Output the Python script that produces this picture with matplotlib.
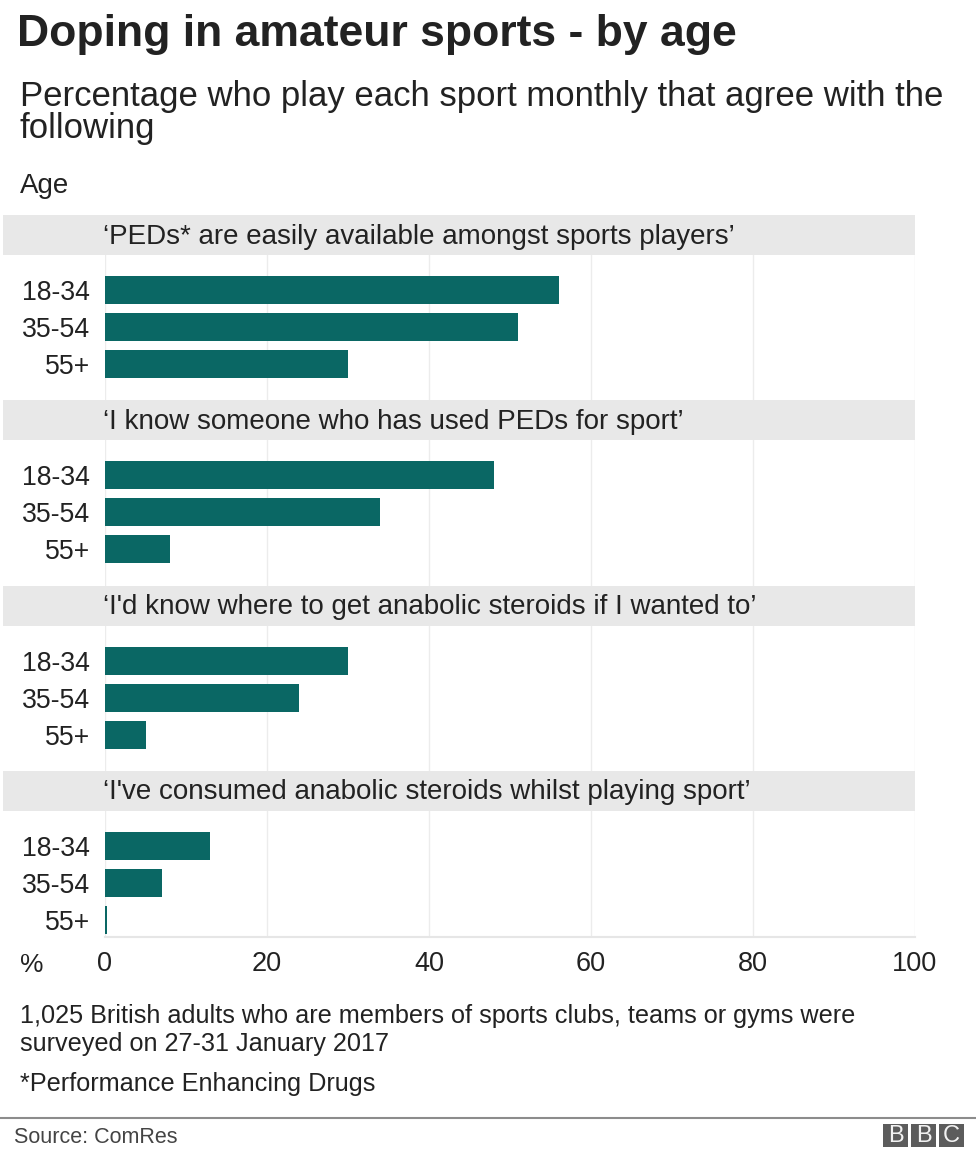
import matplotlib
matplotlib.use("Agg")
import matplotlib.pyplot as plt
from matplotlib.patches import Rectangle
import matplotlib.transforms as mtransforms

plt.rcParams['font.family'] = ['Liberation Sans', 'DejaVu Sans']

# data
statements = [
    "\u2018PEDs* are easily available amongst sports players\u2019",
    "\u2018I know someone who has used PEDs for sport\u2019",
    "\u2018I'd know where to get anabolic steroids if I wanted to\u2019",
    "\u2018I've consumed anabolic steroids whilst playing sport\u2019",
]
ages = ["18-34", "35-54", "55+"]
age_18_34 = [56, 48, 30, 13]
age_35_54 = [51, 34, 24, 7]
age_55_plus = [30, 8, 5, 0.3]
x_ticks = [0, 20, 40, 60, 80, 100]

W, H = 976, 1160
TEAL = '#0a6764'
BAND = '#e8e8e8'
TXT = '#222222'

fig = plt.figure(figsize=(W / 100, H / 100), dpi=100)

# layout in pixel units (top of figure = 0)
ax_top, ax_bot = 215, 937
ax_left, ax_right = 105, 915
ax = fig.add_axes([ax_left / W, 1 - ax_bot / H, (ax_right - ax_left) / W,
                   (ax_bot - ax_top) / H])
ax.set_xlim(0, 100)
ax.set_ylim(ax_bot - ax_top, 0)

group_step = 185.3
band_h = 40
offsets = [75, 112, 149]
bar_h = 28

series = [age_18_34, age_35_54, age_55_plus]
ytick_pos, ytick_lab = [], []
band_tr = mtransforms.blended_transform_factory(fig.transFigure, ax.transData)
for g, stmt in enumerate(statements):
    top = g * group_step
    ax.add_patch(Rectangle((3 / W, top), (ax_right - 3) / W, band_h,
                           transform=band_tr, facecolor=BAND, edgecolor='none',
                           clip_on=False, zorder=3))
    ax.text(-0.3, top + band_h / 2 + 1.5, stmt, fontsize=20, color=TXT,
            ha='left', va='center', zorder=4)
    for i, vals in enumerate(series):
        y = top + offsets[i]
        ax.barh(y, vals[g], height=bar_h, color=TEAL, zorder=2)
        ytick_pos.append(y)
        ytick_lab.append(ages[i])

ax.set_yticks(ytick_pos)
ax.set_yticklabels(ytick_lab, fontsize=19.2, color=TXT)
ax.set_xticks(x_ticks)
ax.set_xticklabels([str(t) for t in x_ticks], fontsize=19.5, color=TXT)
ax.tick_params(length=0)
ax.tick_params(axis='x', pad=10)
ax.tick_params(axis='y', pad=11)
ax.xaxis.grid(True, color='#ececec', linewidth=1, zorder=0)
ax.set_axisbelow(True)
for s in ['top', 'right', 'left']:
    ax.spines[s].set_visible(False)
ax.spines['bottom'].set_color('#e6e6e6')
ax.spines['bottom'].set_linewidth(1.5)

def fy(py):
    return 1 - py / H

fig.text(20 / W, fy(962), "%", fontsize=19, color=TXT, ha='left', va='center_baseline')

fig.text(17 / W, fy(46), "Doping in amateur sports - by age", fontsize=32,
         fontweight='bold', color=TXT, ha='left', va='baseline')
fig.text(20 / W, fy(106), "Percentage who play each sport monthly that agree with the",
         fontsize=25, color=TXT, ha='left', va='baseline')
fig.text(20 / W, fy(138), "following", fontsize=25, color=TXT, ha='left', va='baseline')
fig.text(20 / W, fy(193), "Age", fontsize=20, color=TXT, ha='left', va='baseline')

fig.text(20 / W, fy(1023), "1,025 British adults who are members of sports clubs, teams or gyms were",
         fontsize=18.2, color=TXT, ha='left', va='baseline')
fig.text(20 / W, fy(1051), "surveyed on 27-31 January 2017",
         fontsize=18.2, color=TXT, ha='left', va='baseline')
fig.text(20 / W, fy(1091), "*Performance Enhancing Drugs",
         fontsize=18.2, color=TXT, ha='left', va='baseline')

# footer
fig.add_artist(plt.Line2D([0, 1], [fy(1118), fy(1118)], color='#8c8c8c', linewidth=1.5))
fig.text(14 / W, fy(1143), "Source: ComRes", fontsize=15.5, color='#444444',
         ha='left', va='baseline')
box_w, gap = 25, 3
for k, letter in enumerate("BBC"):
    x0 = 883 + k * (box_w + gap)
    fig.add_artist(Rectangle((x0 / W, fy(1147)), box_w / W, 23 / H,
                             transform=fig.transFigure, facecolor='#5c5c5c',
                             edgecolor='none'))
    fig.text((x0 + box_w / 2) / W, fy(1136), letter, fontsize=17,
             color='#f2f2f2', ha='center', va='center')

fig.savefig("out.png", dpi=100, facecolor='white')
